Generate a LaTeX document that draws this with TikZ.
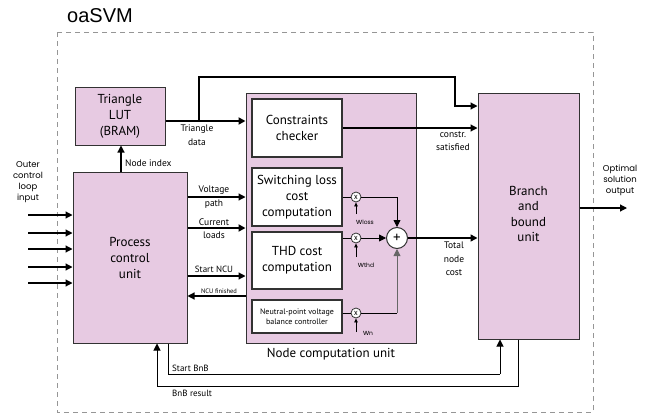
\documentclass[tikz,border=0pt]{standalone}
\usepackage{fontspec}
\setmainfont{PT Sans}
\newfontfamily\geo{Poppins}
\newfontfamily\arialf{Liberation Sans}
\usetikzlibrary{arrows.meta}
\definecolor{lpurple}{RGB}{231,202,226}
\definecolor{bordc}{RGB}{50,50,50}
\definecolor{dashc}{RGB}{150,150,150}
\tikzset{
  blk/.style={draw=bordc, line width=1pt, fill=lpurple, align=center, inner sep=0pt, font=\fontsize{13}{16}\selectfont},
  wblk/.style={draw=bordc, line width=1.1pt, fill=white, align=center, inner sep=0pt, font=\fontsize{13}{16}\selectfont},
  arr/.style={line width=1.2pt, -{Triangle[length=7pt,width=7pt]}},
  tarr/.style={line width=2pt, -{Triangle[length=7pt,width=7pt]}},
  sarr/.style={line width=0.8pt, -{Triangle[length=4pt,width=3.5pt]}},
  ln/.style={line width=0.9pt},
  lbl/.style={font=\fontsize{9.5}{13.5}\selectfont, align=center, inner sep=0pt},
  glbl/.style={font=\geo\fontsize{8.5}{11}\selectfont, align=center, inner sep=0pt},
  mult/.style={circle, draw=bordc, line width=0.8pt, fill=white, minimum size=10pt, inner sep=0pt, font=\geo\fontsize{7.5}{7.5}\selectfont},
  summ/.style={circle, draw=bordc, line width=1pt, fill=white, minimum size=21pt, inner sep=0pt, font=\fontsize{15}{15}\selectfont},
}
\begin{document}
\begin{tikzpicture}[x=1pt,y=-1pt]
\useasboundingbox (0,0) rectangle (654,415);
% title and border
\node[font=\arialf\fontsize{20}{20}\selectfont, inner sep=0pt] (title) at (100,16) {oaSVM};
\draw[dashc, line width=1pt, dash pattern=on 5pt off 4pt] (57,32) rectangle (593,412);
% blocks
\node[blk, minimum width=90pt, minimum height=58pt] (lut) at (120,116) {Triangle\\LUT\\(BRAM)};
\node[blk, minimum width=114pt, minimum height=171pt] (pcu) at (130,257.5) {Process\\control\\unit};
\node[blk, minimum width=170pt, minimum height=250pt] (ncu) at (331,218) {};
\node[wblk, minimum width=90pt, minimum height=58pt] (cc) at (297,128) {Constraints\\checker};
\node[wblk, minimum width=90pt, minimum height=58pt] (sl) at (297,197) {Switching loss\\cost\\computation};
\node[wblk, minimum width=90pt, minimum height=57pt] (thd) at (297,260.5) {THD cost\\computation};
\node[wblk, minimum width=90pt, minimum height=33pt, font=\fontsize{8}{10.5}\selectfont] (np) at (297,316.5) {Neutral-point voltage\\balance controller};
\node[font=\fontsize{13}{13}\selectfont, inner sep=0pt] (ncul) at (331,354) {Node computation unit};
\node[blk, minimum width=101pt, minimum height=246pt] (bnb) at (528.5,216) {};
\node[font=\fontsize{13}{15.5}\selectfont, align=center, inner sep=0pt] (bnbl) at (528.5,214) {Branch\\and\\bound\\unit};
% multipliers and sum
\node[mult] (m1) at (356,197) {x};
\node[mult] (m2) at (356,238) {x};
\node[mult] (m3) at (356,313) {x};
\node[summ] (sum) at (397,238) {+};
% coordinates
\coordinate (tdj) at (199,121);
\coordinate (tdt) at (199,77);
\coordinate (tdr) at (455,77);
\coordinate (tdb) at (455,106);
\coordinate (ccy) at (0,128);
\coordinate (niy) at (121,0);
\coordinate (vp) at (0,197);
\coordinate (cl) at (0,228);
\coordinate (sn) at (0,276);
\coordinate (nf) at (0,296);
\coordinate (sbL) at (168,374);
\coordinate (sbR) at (500,374);
\coordinate (brR) at (518,386);
\coordinate (brL) at (157,386);
\coordinate (outy) at (0,208);
\coordinate (oute) at (627,208);
\coordinate (s1) at (397,197);
\coordinate (s3) at (397,313);
\coordinate (w1) at (356,214);
\coordinate (w2) at (356,257);
\coordinate (w3) at (356,332);
% triangle data
\draw[tarr] (lut.east |- tdj) -- (ncu.west |- tdj);
\draw[arr] (tdj) -- (tdt) -- (tdr) -- (tdb) -- (bnb.west |- tdb);
\node[lbl] (tdl) at (197,135) {Triangle\\data};
% constraints
\draw[arr] (cc.east |- ccy) -- (bnb.west |- ccy);
\node[lbl, font=\fontsize{9.5}{12.5}\selectfont] (csl) at (453,141) {constr.\\satisfied};
% node index
\draw[arr] (pcu.north -| niy) -- (lut.south -| niy);
\node[lbl, anchor=west] (nil) at (125,163) {Node index};
% pcu to ncu
\draw[arr] (pcu.east |- vp) -- (ncu.west |- vp);
\node[lbl] (vpa) at (214,190) {Voltage};
\node[lbl] (vpb) at (214,204) {path};
\draw[tarr] (pcu.east |- cl) -- (ncu.west |- cl);
\node[lbl] (cla) at (214,222) {Current};
\node[lbl] (clb) at (214,235) {loads};
\draw[arr] (pcu.east |- sn) -- (ncu.west |- sn);
\node[lbl, font=\fontsize{9}{9}\selectfont] (snl) at (214,269) {Start NCU};
\draw[arr] (ncu.west |- nf) -- (pcu.east |- nf);
\node[lbl, font=\fontsize{6.5}{6.5}\selectfont] (nfl) at (219,291) {NCU finished};
% BnB loops
\draw[ln, line width=1pt] (pcu.south -| sbL) -- (sbL) -- (sbR);
\draw[arr, line width=1pt] (sbR) -- (bnb.south -| sbR);
\node[lbl, anchor=west, font=\fontsize{9}{9}\selectfont] (sbl) at (172,368) {Start BnB};
\draw[ln, line width=1pt] (bnb.south -| brR) -- (brR) -- (brL);
\draw[arr, line width=1pt] (brL) -- (pcu.south -| brL);
\node[lbl, anchor=west, font=\fontsize{9}{9}\selectfont] (brl) at (172,393) {BnB result};
% outer inputs
\foreach \yy [count=\i] in {215,233,249,267,283}{
  \coordinate (in\i) at (28,\yy);
  \draw[arr] (in\i) -- (pcu.west |- in\i);
}
\node[glbl] (ocl) at (28,182) {Outer\\control\\loop\\input};
% output
\draw[arr] (bnb.east |- outy) -- (oute);
\node[glbl] (osl) at (620,180) {Optimal\\solution\\output};
% NCU internals
\draw[ln] (sl.east |- m1) -- (m1);
\draw[ln] (thd.east |- m2) -- (m2);
\draw[ln] (np.east |- m3) -- (m3);
\draw[ln] (m1) -- (s1);
\draw[sarr, -{Triangle[length=7pt,width=7pt]}] (s1) -- (sum.north);
\draw[sarr, -{Triangle[length=7pt,width=7pt]}] (m2) -- (sum.west);
\draw[ln] (m3) -- (s3);
\draw[sarr, draw=black!60, -{Triangle[length=7pt,width=7pt]}] (s3) -- (sum.south);
\draw[tarr, line width=1.5pt] (sum.east) -- (bnb.west |- sum);
\node[lbl, font=\fontsize{9.5}{13.5}\selectfont] (tnc) at (454,259) {Total\\node\\cost};
\draw[sarr] (w1) -- (m1);
\draw[sarr] (w2) -- (m2);
\draw[sarr] (w3) -- (m3);
\node[inner sep=0pt, font=\geo\fontsize{7.5}{7.5}\selectfont] (w1l) at (365,222) {w\fontsize{6}{6}\selectfont loss};
\node[inner sep=0pt, font=\geo\fontsize{7.5}{7.5}\selectfont] (w2l) at (366,265) {w\fontsize{6}{6}\selectfont thd};
\node[inner sep=0pt, font=\geo\fontsize{7.5}{7.5}\selectfont] (w3l) at (368,333) {w\fontsize{6}{6}\selectfont n};
\end{tikzpicture}
\end{document}
